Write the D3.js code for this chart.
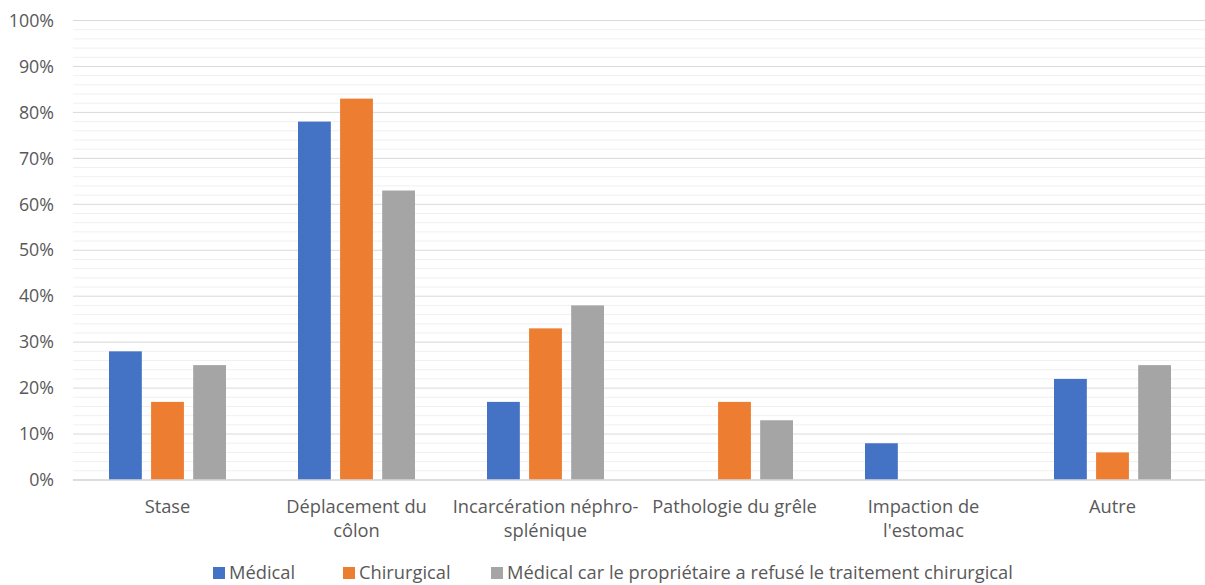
<!DOCTYPE html>
<html><head><meta charset="utf-8">
<script src="https://cdn.jsdelivr.net/npm/d3@7"></script>
<style>body{margin:0;background:#fff;} svg{display:block;}</style>
</head><body>
<svg id="c" width="1205" height="585"></svg>
<script>
const categories = ["Stase", "Déplacement du\ncôlon", "Incarcération néphro-\nsplénique", "Pathologie du grêle", "Impaction de\nl'estomac", "Autre"];
const seriesNames = ["Médical", "Chirurgical", "Médical car le propriétaire a refusé le traitement chirurgical"];
const medical = [28, 78, 17, 0, 8, 22];
const chirurgical = [17, 83, 33, 17, 0, 6];
const refuse = [25, 63, 38, 13, 0, 25];
const colors = ["#4472C4", "#ED7D31", "#A5A5A5"];
const yTicks = [0, 10, 20, 30, 40, 50, 60, 70, 80, 90, 100];

(function(){
const series = [medical, chirurgical, refuse];
const svg = d3.select("#c");
const font = "'Open Sans', Lato, sans-serif";
const fs = 18.3;
const pLeft = 73, pRight = 1207, pTop = 20.5, pBottom = 480;

const x = d3.scaleBand().domain(categories.map((d,i)=>i)).range([pLeft, pRight]).paddingInner(0).paddingOuter(0);
const xs = d3.scaleBand().domain([0,1,2]).range([0, 117]).paddingInner(0.22);
const y = d3.scaleLinear().domain([0, 100]).range([pBottom, pTop]);

const minor = d3.range(0, 101, 2).filter(v => v % 10 !== 0);
svg.append("g").selectAll("line").data(minor).join("line")
  .attr("x1", pLeft).attr("x2", 1205).attr("y1", d=>y(d)).attr("y2", d=>y(d))
  .attr("stroke", "#f0f0f0").attr("stroke-width", 1);
svg.append("g").selectAll("line").data(yTicks).join("line")
  .attr("x1", pLeft).attr("x2", 1205).attr("y1", d=>y(d)).attr("y2", d=>y(d))
  .attr("stroke", "#d9d9d9").attr("stroke-width", 1);

svg.append("g").selectAll("text").data(yTicks).join("text")
  .attr("x", 54).attr("y", d=>y(d)).attr("dy", "0.35em").attr("text-anchor", "end")
  .attr("font-family", font).attr("font-size", 17.8).attr("fill", "#595959")
  .text(d => d + "%");

series.forEach((s, si) => {
  svg.append("g").selectAll("rect").data(s).join("rect")
    .attr("x", (d,i) => x(i) + (x.bandwidth()-117)/2 + xs(si))
    .attr("width", xs.bandwidth())
    .attr("y", d => y(d))
    .attr("height", d => y(0) - y(d))
    .attr("fill", colors[si]);
});

svg.append("line").attr("x1", pLeft).attr("x2", 1205).attr("y1", y(0)).attr("y2", y(0))
  .attr("stroke", "#d9d9d9").attr("stroke-width", 1.5);

const cl = svg.append("g").selectAll("text").data(categories).join("text")
  .attr("text-anchor", "middle").attr("font-family", font).attr("font-size", fs).attr("fill", "#595959");
cl.each(function(d, i) {
  const lines = d.split("\n");
  d3.select(this).selectAll("tspan").data(lines).join("tspan")
    .attr("x", x(i) + x.bandwidth()/2)
    .attr("y", (l, j) => 513 + j * 24)
    .text(l => l);
});

const legX = [213, 343, 491];
const lg = svg.append("g");
seriesNames.forEach((n, i) => {
  lg.append("rect").attr("x", legX[i]).attr("y", 567).attr("width", 12).attr("height", 12).attr("fill", colors[i]);
  lg.append("text").attr("x", legX[i] + 16).attr("y", 579).attr("font-family", font).attr("font-size", fs)
    .attr("fill", "#595959").text(n);
});
})();
</script>
</body></html>
